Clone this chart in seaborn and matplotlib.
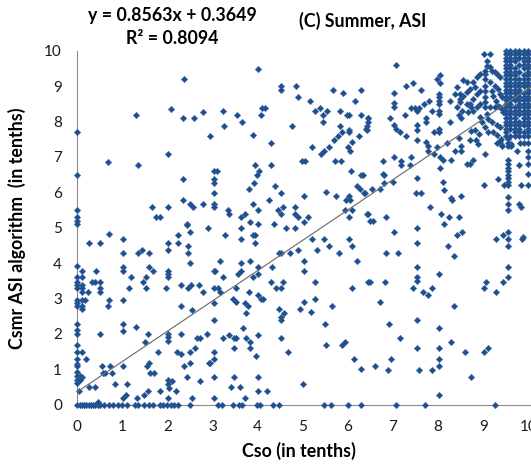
import numpy as np
import pandas as pd
import matplotlib
matplotlib.use("Agg")
import matplotlib.pyplot as plt
import seaborn as sns

# ---------------- data (Cso, Csmr) ----------------
SLOPE = 0.8563
INTERCEPT = 0.3649
EQ_TEXT = "y = 0.8563x + 0.3649"
R2_TEXT = "R\u00b2 = 0.8094"
TITLE = "(C) Summer, ASI"
X_TICKS = [0, 1, 2, 3, 4, 5, 6, 7, 8, 9, 10]
Y_TICKS = [0, 1, 2, 3, 4, 5, 6, 7, 8, 9, 10]

# points lying on y = 0
zero_row_x = [0, 0.05, 0.1, 0.15, 0.2, 0.25, 0.3, 0.35, 0.4, 0.45, 0.5, 0.6, 0.7, 0.8,
              0.9, 1.0, 1.1, 1.27, 1.34, 1.49, 1.58, 1.68, 1.83, 1.9, 2.0, 2.07, 2.15,
              2.24, 2.5, 3.12, 3.21, 3.46, 3.59, 3.65, 3.99, 4.06, 4.35, 4.47, 5.46,
              5.62, 6.0, 6.29, 7.07, 7.72, 9.26]

# points lying on x = 0
axis_col_y = [7.69, 6.49, 5.49, 5.29, 5.18, 5.10, 3.92, 3.60, 3.48, 3.39, 3.29, 2.96,
              2.86, 2.79, 2.28, 2.11, 1.99, 1.69, 1.48, 1.29, 1.15, 1.08, 0.91, 0.82,
              0.70, 0.61]

upper_left = [(0.67, 6.85), (1.30, 8.18), (1.35, 6.78), (1.65, 5.59), (1.75, 5.29),
              (1.83, 5.29), (2.02, 7.08), (2.02, 5.59), (2.08, 8.36), (2.37, 9.20),
              (2.35, 8.09), (2.35, 6.38), (2.35, 5.79), (2.59, 8.09), (2.78, 8.26),
              (2.78, 5.68), (2.94, 7.59), (2.51, 5.68), (2.56, 5.59), (2.43, 5.10),
              (2.90, 4.99), (3.02, 6.59), (3.02, 6.38), (3.02, 6.27), (3.02, 5.98),
              (3.02, 5.68), (3.02, 5.59), (3.10, 6.59)]

mid_upper = [(4.01, 9.49), (4.51, 8.99), (4.51, 8.89), (4.51, 5.98), (4.51, 5.38),
             (4.86, 9.01), (4.89, 8.69), (5.16, 8.58), (5.66, 8.89), (5.90, 8.81),
             (6.30, 8.89), (6.30, 8.19), (6.16, 8.58), (3.22, 8.29), (3.26, 7.88),
             (3.55, 8.19), (3.65, 7.99), (4.08, 8.19), (4.10, 8.39), (4.16, 8.39),
             (3.90, 7.62), (4.29, 7.40), (4.76, 7.88), (5.28, 8.29), (5.38, 8.39),
             (5.45, 8.19), (5.45, 7.99), (5.53, 8.29), (5.82, 8.29), (5.82, 7.88),
             (5.97, 8.19), (6.03, 8.19), (5.87, 7.69), (6.02, 7.76), (6.02, 7.69),
             (5.78, 7.59), (5.69, 7.48), (6.10, 7.41), (6.25, 7.59), (6.42, 7.88),
             (6.42, 7.76), (6.45, 8.09), (5.20, 7.29), (5.57, 7.29), (5.48, 7.18),
             (5.40, 7.08), (6.01, 7.29), (6.05, 7.18), (4.98, 6.89), (5.04, 6.89),
             (5.71, 6.89), (5.84, 6.89), (3.95, 6.78), (4.03, 6.60), (3.98, 6.49),
             (4.29, 6.78), (3.92, 6.27), (3.80, 6.08), (4.38, 6.19), (4.25, 5.79),
             (3.90, 5.68), (4.01, 5.49), (4.56, 5.59), (4.44, 5.49), (4.83, 5.59),
             (4.83, 5.38), (4.90, 5.29), (5.03, 5.89), (5.03, 5.16), (5.11, 5.29),
             (5.52, 6.00), (5.74, 5.89), (6.02, 5.89), (5.96, 5.79), (6.05, 5.79),
             (5.94, 5.49), (6.10, 5.49), (6.03, 5.29), (6.20, 6.19), (6.27, 6.08),
             (6.06, 6.60), (6.28, 6.49), (6.38, 5.98), (6.43, 5.38), (3.34, 5.49),
             (3.36, 5.38), (3.63, 5.29), (3.72, 5.38), (3.84, 5.16), (4.01, 5.10),
             (3.63, 5.00), (4.36, 5.10), (4.63, 4.99), (4.83, 4.99)]

right_upper = [(9.02, 9.91), (9.15, 9.91), (7.07, 9.61), (8.04, 9.30), (7.97, 9.19),
               (8.04, 9.09), (7.45, 9.09), (7.29, 8.99), (7.62, 8.89), (7.03, 8.81),
               (7.03, 8.53), (7.03, 8.42), (8.02, 8.78), (8.02, 8.69), (8.02, 8.58),
               (8.02, 8.49), (8.02, 8.29), (8.02, 8.20), (7.69, 8.50), (7.80, 8.58),
               (7.39, 8.39), (7.49, 8.39), (7.58, 8.39), (7.53, 8.29), (7.87, 8.29),
               (7.26, 8.19), (7.73, 8.09), (7.73, 7.98), (6.93, 8.09), (6.44, 8.09),
               (6.44, 7.99), (7.02, 7.89), (7.07, 7.79), (7.15, 7.69), (6.40, 7.79),
               (7.29, 7.59), (7.53, 7.89), (7.54, 7.76), (7.91, 7.69), (8.03, 7.79),
               (8.03, 7.69), (8.26, 7.99), (8.46, 8.19), (8.51, 8.09), (7.54, 7.49),
               (7.73, 7.41), (7.77, 7.30), (7.77, 7.18), (7.97, 7.29), (8.19, 7.40),
               (7.91, 7.09), (8.04, 7.00), (8.10, 6.90), (8.46, 7.54), (8.37, 7.18),
               (8.51, 7.18), (8.51, 7.30), (8.71, 7.49), (8.82, 7.75), (8.90, 7.65),
               (9.03, 7.09), (6.78, 6.89), (6.78, 6.51), (7.03, 7.00), (7.18, 6.89),
               (7.18, 6.78), (7.39, 7.00), (7.38, 6.78), (7.53, 6.40), (7.51, 5.99),
               (7.61, 5.99), (8.04, 6.69), (8.28, 5.85), (8.51, 5.89), (7.82, 5.59),
               (8.07, 5.40), (8.25, 5.30), (8.12, 5.10), (8.65, 6.80), (8.71, 6.80),
               (9.02, 6.20), (6.45, 5.40), (6.49, 5.18), (6.56, 5.18), (6.84, 5.29),
               (7.53, 4.99), (6.33, 6.48), (6.36, 5.98), (6.53, 6.08), (6.71, 6.08),
               (6.80, 6.26), (6.80, 6.48), (7.01, 6.29),
               (9.39, 7.51), (9.39, 7.37), (9.30, 7.39), (9.62, 7.37), (9.62, 7.30),
               (9.82, 7.39), (9.90, 7.39), (10.0, 7.39), (9.76, 7.18), (10.0, 7.18),
               (10.0, 7.00), (9.79, 6.78), (10.0, 6.81), (10.0, 6.53), (9.84, 6.20),
               (10.0, 6.20), (9.79, 5.68), (9.84, 5.59), (9.89, 4.74), (9.33, 6.38),
               (9.47, 6.20), (8.31, 5.77), (8.10, 6.29), (8.13, 6.07), (8.29, 6.90),
               (8.78, 6.90), (8.84, 7.48), (8.88, 7.37), (8.74, 7.72), (8.46, 5.29)]

# vertical run of points at Cso ~ 9.54 below the dense block
col954_y = [7.5, 7.4, 7.3, 6.9, 6.8, 6.7, 6.6, 6.5, 6.4, 6.3, 6.2, 5.87, 5.68, 5.49]

mid_dense = [(9.08, 9.72), (9.08, 9.58), (9.15, 9.53), (9.19, 9.44), (9.26, 9.39),
             (9.30, 9.35), (9.37, 9.25), (9.04, 9.34), (9.04, 9.20), (9.15, 9.11),
             (9.26, 9.01), (9.33, 8.92), (9.37, 8.78), (9.41, 8.69), (9.19, 8.87),
             (9.22, 8.73), (9.28, 8.59), (9.33, 8.45), (9.41, 8.36), (9.45, 8.27),
             (9.04, 9.44), (9.04, 9.00), (9.04, 8.85), (9.04, 8.70), (9.04, 8.55),
             (9.04, 8.41), (9.15, 8.41), (9.26, 8.41), (9.37, 8.41), (8.93, 8.87),
             (8.86, 8.78), (8.78, 8.64), (8.71, 8.50), (8.82, 8.97), (8.71, 8.92),
             (8.63, 8.83), (8.56, 8.73), (8.49, 8.64), (8.86, 9.25), (8.78, 9.11),
             (8.93, 9.34), (8.93, 8.50), (8.86, 8.41), (8.78, 8.31), (8.67, 8.27),
             (9.08, 8.22), (9.11, 8.08), (9.19, 7.99), (9.30, 7.89), (9.37, 7.85),
             (8.93, 8.12), (8.97, 7.99), (9.04, 7.85), (9.11, 7.70), (9.22, 7.70),
             (9.30, 7.61), (9.37, 7.46), (9.41, 7.32), (8.56, 9.17), (8.63, 9.11),
             (8.41, 8.97), (8.49, 8.78), (8.37, 8.78), (8.49, 8.55), (8.63, 8.50),
             (8.74, 8.41), (8.26, 8.59), (8.41, 8.41), (8.52, 8.31)]

# saturated block in the top-right corner: columns x rows that are filled
block_cols = [9.5, 9.6, 9.7, 9.8, 9.9, 10.0]
block_rows = [10.0, 9.9, 9.8, 9.7, 9.6, 9.5, 9.4, 9.3, 9.2, 9.1, 9.0, 8.9, 8.8,
              8.7, 8.6, 8.5, 8.4, 8.3, 8.2, 8.1, 8.0, 7.9, 7.8, 7.7, 7.6]
block_holes = [(9.8, 9.7), (9.8, 9.5), (9.8, 9.3), (9.9, 9.4), (9.7, 9.6),
               (9.9, 8.9), (9.7, 8.5), (9.8, 8.1), (9.6, 7.7), (9.9, 7.8)]

lower_right = [(7.02, 4.87), (7.53, 4.58), (6.84, 4.29), (7.12, 4.29), (8.21, 4.48),
               (8.41, 4.78), (8.52, 4.87), (8.36, 4.19), (9.28, 4.69), (9.43, 4.78),
               (9.54, 4.87), (9.54, 4.69), (9.54, 4.48), (9.87, 4.69), (7.53, 3.89),
               (7.53, 3.60), (7.53, 3.49), (8.02, 3.68), (6.49, 3.48), (6.82, 3.48),
               (7.45, 3.29), (7.67, 3.19), (7.78, 3.09), (7.87, 3.29), (9.54, 3.89),
               (9.54, 3.60), (9.06, 3.48), (9.02, 3.29), (9.28, 3.19), (9.43, 3.48),
               (6.71, 2.89), (8.36, 2.79), (7.53, 2.39), (6.91, 2.28), (8.02, 2.18),
               (7.16, 1.89), (8.29, 1.77), (7.53, 1.59), (8.02, 1.59), (8.60, 1.48),
               (9.02, 1.48), (9.11, 1.59), (8.02, 1.29), (8.02, 1.08), (6.96, 1.29),
               (6.30, 1.01), (6.59, 1.08), (6.88, 0.97), (7.58, 0.97), (7.86, 0.97),
               (8.72, 0.78), (8.02, 0.27)]

mid_lower = [(3.27, 4.78), (3.63, 4.69), (3.90, 4.78), (3.94, 4.78), (3.95, 4.58),
             (4.48, 4.29), (4.52, 4.29), (4.71, 4.29), (4.89, 4.37), (5.20, 4.69),
             (5.31, 4.37), (5.48, 4.69), (5.59, 4.48), (5.81, 4.29), (6.03, 4.69),
             (6.10, 4.48), (6.21, 4.07), (6.45, 3.48), (6.10, 3.29), (5.64, 2.79),
             (5.28, 3.48), (5.28, 2.99), (5.18, 2.62), (5.03, 4.07), (5.03, 3.78),
             (5.03, 2.89), (4.94, 2.69), (5.49, 2.28), (5.52, 1.68), (5.88, 1.68),
             (5.94, 1.77), (6.14, 1.29), (5.00, 0.59), (4.32, 3.89), (4.29, 3.48),
             (4.56, 3.48), (4.40, 3.29), (4.51, 3.29), (4.47, 2.69), (4.51, 2.49),
             (4.51, 2.39), (4.58, 2.58), (4.51, 1.89), (4.67, 1.48), (3.84, 4.07),
             (4.01, 3.89), (4.01, 3.69), (3.90, 3.60), (3.81, 3.19), (4.01, 3.09),
             (4.07, 2.99), (4.12, 2.99), (3.71, 2.88), (3.78, 2.79), (3.74, 2.58),
             (3.67, 2.17), (3.74, 1.89), (3.83, 1.77), (4.01, 1.98), (3.83, 1.59),
             (3.96, 1.38), (4.01, 0.78), (4.01, 0.38), (4.21, 0.38), (3.72, 0.19),
             (3.61, 0.49), (3.40, 0.49), (3.47, 0.78), (3.02, 0.78), (3.02, 0.19),
             (3.47, 1.59), (3.47, 1.89), (3.36, 1.98), (3.52, 1.89), (3.24, 1.89),
             (3.02, 1.48), (3.02, 1.29), (2.94, 1.19), (3.02, 2.39), (3.02, 2.88),
             (3.12, 3.29), (3.02, 3.29), (3.16, 3.19), (3.22, 3.60), (3.02, 3.78),
             (3.05, 3.78), (3.16, 4.07), (3.52, 3.29), (3.45, 2.99), (3.52, 2.89),
             (3.56, 3.69), (3.63, 3.78), (3.63, 3.99)]

lower_left = [(2.43, 5.09), (2.51, 4.87), (0.71, 4.82), (0.27, 4.58), (0.50, 4.58),
              (1.02, 4.69), (1.02, 4.29), (1.35, 4.29), (1.43, 4.37), (1.58, 4.29),
              (2.02, 4.58), (2.02, 4.37), (2.24, 4.78), (2.24, 4.58), (2.45, 4.48),
              (2.45, 4.29), (2.51, 3.99), (0.11, 3.78), (0.11, 3.60), (0.11, 3.39),
              (0.11, 3.29), (0.11, 3.19), (0.11, 2.96), (0.11, 2.79), (0.11, 2.69),
              (0.11, 1.48), (0.11, 0.78), (0.24, 3.19), (0.17, 2.96), (0.32, 3.48),
              (0.39, 3.48), (0.41, 3.78), (0.50, 3.48), (0.50, 3.29), (0.50, 3.19),
              (0.71, 2.96), (0.67, 2.79), (1.02, 3.90), (1.02, 3.78), (1.02, 2.96),
              (1.02, 2.28), (1.02, 2.09), (1.20, 3.60), (1.15, 3.29), (1.30, 2.19),
              (1.46, 3.48), (1.52, 3.60), (1.52, 3.29), (1.60, 3.90), (1.67, 3.78),
              (1.97, 3.29), (2.02, 3.78), (2.02, 3.69), (2.02, 3.60), (2.29, 2.79),
              (2.31, 3.39), (2.45, 3.29), (2.52, 3.39), (2.55, 2.68), (2.70, 3.39),
              (2.78, 3.19), (0.06, 0.82), (0.06, 0.70), (0.19, 1.29), (0.04, 0.39),
              (0.26, 0.49), (0.39, 0.49), (0.50, 1.99), (0.54, 1.08), (0.73, 1.08),
              (0.56, 0.89), (0.61, 0.89), (0.78, 0.89), (0.84, 0.59), (1.02, 1.08),
              (1.02, 0.19), (1.07, 0.28), (1.10, 0.59), (1.33, 0.19), (1.49, 0.28),
              (1.57, 0.38), (1.54, 1.08), (1.59, 1.17), (1.61, 0.89), (1.70, 0.89),
              (1.51, 1.77), (1.57, 1.99), (1.78, 1.48), (1.83, 0.38), (2.02, 0.19),
              (2.02, 1.99), (2.02, 1.91), (2.02, 1.80), (2.02, 0.69), (2.02, 0.59),
              (2.09, 0.66), (2.03, 0.47), (2.18, 0.38), (2.22, 1.48), (2.31, 1.43),
              (2.29, 1.99), (2.37, 1.08), (2.43, 0.78), (2.51, 1.48), (2.51, 1.17),
              (2.55, 0.19), (2.61, 1.59), (2.65, 1.89), (2.72, 1.89), (2.87, 1.99),
              (2.71, 0.68), (2.93, 1.17), (0.46, 0.08)]

# ---------------- assemble ----------------
pts = []
pts += [(x, 0.0) for x in zero_row_x]
pts += [(0.0, y) for y in axis_col_y]
pts += upper_left + mid_upper + right_upper + mid_dense + lower_right + mid_lower + lower_left
pts += [(9.54, y) for y in col954_y]
pts += [(cx, ry) for cx in block_cols for ry in block_rows if (cx, ry) not in block_holes]
df = pd.DataFrame(pts, columns=["Cso", "Csmr"])

# ---------------- plot ----------------
sns.set_theme(style="white")
plt.rcParams["font.family"] = ["Lato", "DejaVu Sans"]

W, H = 531, 467
fig = plt.figure(figsize=(W / 100, H / 100), dpi=100)
x0, x1 = 77.3, 531.0
y_top, y_bot = 50.7, 404.7
ax = fig.add_axes([x0 / W, 1 - y_bot / H, (x1 - x0) / W, (y_bot - y_top) / H])

sns.scatterplot(data=df, x="Cso", y="Csmr", ax=ax, marker="D", s=11,
                color="#1F4E8C", edgecolor="#3566a6", linewidth=0.3,
                clip_on=False, zorder=3, legend=False)

tx = np.array([df["Cso"].min(), 10.06])
ax.plot(tx, SLOPE * tx + INTERCEPT, color="#6e6e6e", lw=0.85, zorder=4)

ax.set_xlim(0, 10.06)
ax.set_ylim(0, 10)
ax.set_xticks(X_TICKS)
ax.set_yticks(Y_TICKS)
ax.set_xticklabels([str(t) for t in X_TICKS])
ax.set_yticklabels([str(t) for t in Y_TICKS])
for s in ["top", "right"]:
    ax.spines[s].set_visible(False)
for s in ["left", "bottom"]:
    ax.spines[s].set_color("#8c8c8c")
    ax.spines[s].set_linewidth(0.8)
ax.tick_params(axis="both", direction="out", length=4, width=0.8, color="#8c8c8c",
               labelsize=11, labelcolor="#1a1a1a")
ax.tick_params(axis="y", pad=7)
ax.tick_params(axis="x", pad=7)
ax.set_xlabel("")
ax.set_ylabel("")

BOLD = 12.8
fig.text(17 / W, 1 - 228 / H, "Csmr ASI algorithm  (in tenths)", rotation=90,
         ha="center", va="center", fontsize=BOLD, fontweight="bold", color="#000000")
fig.text(299 / W, 1 - 451 / H, "Cso (in tenths)", ha="center", va="center",
         fontsize=BOLD, fontweight="bold", color="#000000")
fig.text(172 / W, 1 - 15 / H, EQ_TEXT, ha="center", va="center",
         fontsize=BOLD, fontweight="bold", color="#000000")
fig.text(172 / W, 1 - 39 / H, R2_TEXT, ha="center", va="center",
         fontsize=BOLD, fontweight="bold", color="#000000")
fig.text(363 / W, 1 - 21 / H, TITLE, ha="center", va="center",
         fontsize=BOLD, fontweight="bold", color="#000000")

fig.savefig("out.png", dpi=100)
